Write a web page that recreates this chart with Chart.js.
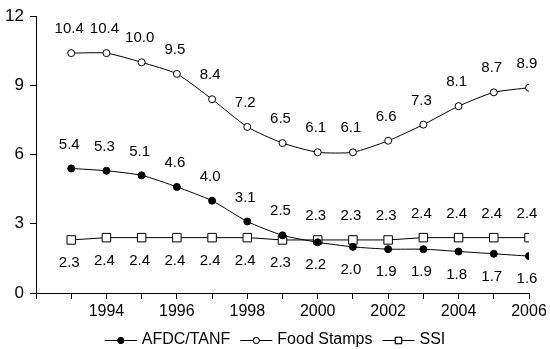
<!DOCTYPE html>
<html>
<head>
<meta charset="utf-8">
<script src="https://cdn.jsdelivr.net/npm/chart.js@4/dist/chart.umd.min.js"></script>
<style>
  html, body { margin: 0; padding: 0; background: #fff; }
  #wrap { width: 550px; height: 349px; }
</style>
</head>
<body>
<div id="wrap"><canvas id="chart" width="550" height="349"></canvas></div>
<script>
const years = [1993, 1994, 1995, 1996, 1997, 1998, 1999, 2000, 2001, 2002, 2003, 2004, 2005, 2006];
const afdcTanf = [5.4, 5.3, 5.1, 4.6, 4.0, 3.1, 2.5, 2.2, 2.0, 1.9, 1.9, 1.8, 1.7, 1.6];
const foodStamps = [10.4, 10.4, 10.0, 9.5, 8.4, 7.2, 6.5, 6.1, 6.1, 6.6, 7.3, 8.1, 8.7, 8.9];
const ssi = [2.3, 2.4, 2.4, 2.4, 2.4, 2.4, 2.3, 2.3, 2.3, 2.3, 2.4, 2.4, 2.4, 2.4];
const yTicks = [0, 3, 6, 9, 12];

const FONT = "Arial, 'Liberation Sans', sans-serif";

const toPoints = vals => vals.map((v, i) => ({ x: years[i], y: v }));

// value labels, above or below each point
const valueLabels = {
  id: 'valueLabels',
  afterDatasetsDraw(chart) {
    const ctx = chart.ctx;
    ctx.save();
    ctx.font = '15px ' + FONT;
    ctx.fillStyle = '#000';
    ctx.textAlign = 'center';
    ctx.textBaseline = 'middle';
    chart.data.datasets.forEach((ds, di) => {
      const meta = chart.getDatasetMeta(di);
      meta.data.forEach((pt, i) => {
        const below = ds.labelBelow(i);
        const y = below ? pt.y + 23 : pt.y - 24;
        ctx.fillText(ds.data[i].y.toFixed(1), pt.x - 2, y);
      });
    });
    ctx.restore();
  }
};

// legend with a line through the marker, like the original
const lineLegend = {
  id: 'lineLegend',
  afterDraw(chart) {
    const ctx = chart.ctx;
    ctx.save();
    ctx.font = '16px ' + FONT;
    const lineLen = 32, gapText = 5, gapItem = 10;
    const items = chart.data.datasets.map(ds => ({ ds, w: ctx.measureText(ds.label).width }));
    let total = 0;
    items.forEach((it, i) => { total += lineLen + gapText + it.w + (i < items.length - 1 ? gapItem : 0); });
    let x = (chart.width - total) / 2;
    const y = 340;
    items.forEach(it => {
      ctx.strokeStyle = '#000';
      ctx.lineWidth = 1;
      ctx.beginPath();
      ctx.moveTo(x, y + 0.5);
      ctx.lineTo(x + lineLen, y + 0.5);
      ctx.stroke();
      Chart.helpers.drawPoint(ctx, {
        pointStyle: it.ds.pointStyle,
        radius: it.ds.pointStyle === 'rect' ? 4.5 : 3,
        borderWidth: 1
      }, x + lineLen / 2, y + 0.5);
      ctx.fillStyle = it.ds.pointBackgroundColor;
      ctx.strokeStyle = '#000';
      ctx.fill();
      ctx.stroke();
      ctx.fillStyle = '#000';
      ctx.textAlign = 'left';
      ctx.textBaseline = 'middle';
      ctx.fillText(it.ds.label, x + lineLen + gapText, y);
      x += lineLen + gapText + it.w + gapItem;
    });
    ctx.restore();
  }
};

new Chart(document.getElementById('chart'), {
  type: 'line',
  data: {
    datasets: [
      {
        label: 'AFDC/TANF',
        data: toPoints(afdcTanf),
        borderColor: '#000',
        borderWidth: 1,
        pointStyle: 'circle',
        pointRadius: 3.5,
        pointBackgroundColor: '#000',
        pointBorderColor: '#000',
        tension: 0.2,
        labelBelow: i => years[i] >= 2000
      },
      {
        label: 'Food Stamps',
        data: toPoints(foodStamps),
        borderColor: '#000',
        borderWidth: 1,
        pointStyle: 'circle',
        pointRadius: 3.5,
        pointBackgroundColor: '#fff',
        pointBorderColor: '#000',
        tension: 0.2,
        labelBelow: i => false
      },
      {
        label: 'SSI',
        data: toPoints(ssi),
        borderColor: '#000',
        borderWidth: 1,
        pointStyle: 'rect',
        pointRadius: 6,
        pointBackgroundColor: '#fff',
        pointBorderColor: '#000',
        tension: 0,
        labelBelow: i => years[i] < 2000
      }
    ]
  },
  options: {
    responsive: false,
    animation: false,
    devicePixelRatio: 1,
    layout: { padding: { top: 12, right: 21, bottom: 30, left: 0 } },
    scales: {
      x: {
        type: 'linear',
        min: 1992,
        max: 2006,
        afterFit: s => { s.height = 26; },
        border: { color: '#000', width: 1 },
        grid: { drawOnChartArea: false, drawTicks: true, tickLength: 6, color: '#000' },
        ticks: {
          stepSize: 1,
          autoSkip: false,
          maxRotation: 0,
          padding: 3,
          color: '#000',
          font: { size: 16, family: FONT },
          callback: v => (v % 2 === 0 && v !== 1992) ? String(v) : ''
        }
      },
      y: {
        min: 0,
        max: 12,
        afterFit: s => { s.width = 36; },
        afterBuildTicks: s => { s.ticks = yTicks.map(v => ({ value: v })); },
        border: { color: '#000', width: 1 },
        grid: { drawOnChartArea: false, drawTicks: true, tickLength: 6, color: '#000' },
        ticks: {
          padding: 6,
          color: '#000',
          font: { size: 17, family: FONT }
        }
      }
    },
    plugins: {
      legend: { display: false },
      tooltip: { enabled: false }
    }
  },
  plugins: [valueLabels, lineLegend]
});
</script>
</body>
</html>
